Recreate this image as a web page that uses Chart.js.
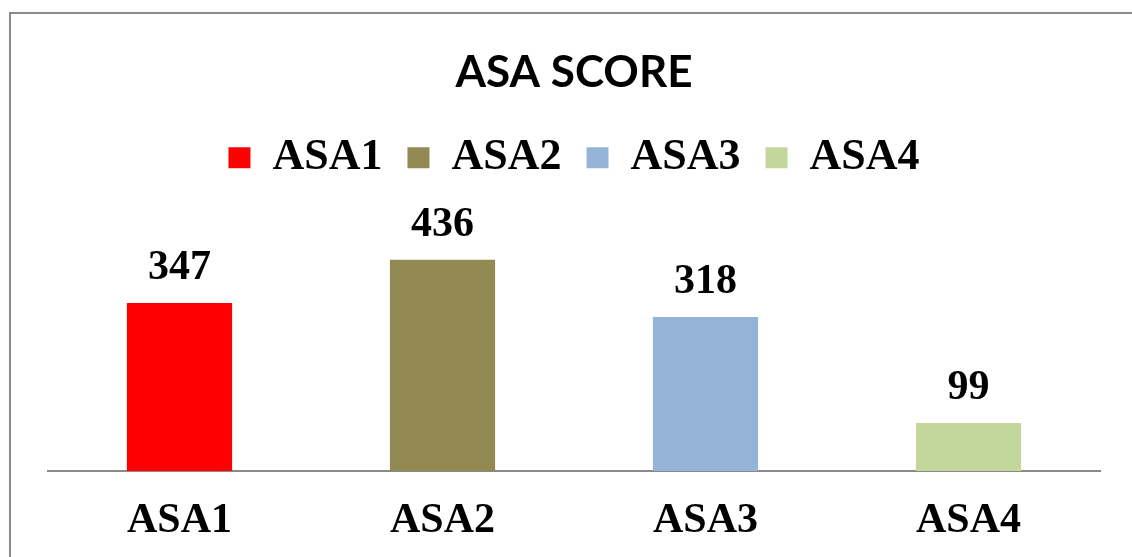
<!DOCTYPE html>
<html>
<head>
<meta charset="utf-8">
<script src="https://cdn.jsdelivr.net/npm/chart.js@4"></script>
<style>
  html, body { margin: 0; padding: 0; background: #fff; overflow: hidden; }
  #frame { position: absolute; left: 9px; top: 12px; width: 1200px; height: 600px; border: 2px solid #8a8a8a; }
  #wrap { position: absolute; left: 0; top: 0; width: 1132px; height: 557px; }
</style>
</head>
<body>
<div id="frame"></div>
<div id="wrap"><canvas id="asaChart" width="1132" height="557"></canvas></div>
<script>
const categories = ['ASA1', 'ASA2', 'ASA3', 'ASA4'];
const scores = [347, 436, 318, 99];
const barColors = ['#ff0000', '#938953', '#95b3d7', '#c3d69b'];

const serif = '"Liberation Serif", "Times New Roman", serif';

// value labels above each bar
const valueLabels = {
    id: 'valueLabels',
    afterDatasetsDraw(chart) {
        const ctx = chart.ctx;
        const meta = chart.getDatasetMeta(0);
        ctx.save();
        ctx.font = 'bold 42px ' + serif;
        ctx.fillStyle = '#000';
        ctx.textAlign = 'center';
        ctx.textBaseline = 'alphabetic';
        meta.data.forEach((bar, i) => {
            ctx.fillText(scores[i], bar.x, bar.y - 24);
        });
        ctx.restore();
    }
};

// extra room under the legend
const legendGap = {
    id: 'legendGap',
    beforeInit(chart) {
        const fit = chart.legend.fit;
        chart.legend.fit = function () {
            fit.bind(chart.legend)();
            this.height += 39;
        };
    }
};

new Chart(document.getElementById('asaChart'), {
    type: 'bar',
    data: {
        labels: categories,
        datasets: [{
            label: 'ASA SCORE',
            data: scores,
            backgroundColor: barColors,
            borderWidth: 0,
            barPercentage: 0.8,
            categoryPercentage: 0.5
        }]
    },
    options: {
        responsive: false,
        animation: false,
        layout: { padding: { left: 48, right: 32, top: 0, bottom: 0 } },
        plugins: {
            title: {
                display: true,
                text: 'ASA SCORE',
                color: '#000',
                font: { family: 'Lato, "Liberation Sans", sans-serif', size: 44, weight: 'bold' },
                padding: { top: 46, bottom: 12 }
            },
            legend: {
                display: true,
                labels: {
                    color: '#000',
                    font: { family: serif, size: 44, weight: 'bold' },
                    boxWidth: 22,
                    boxHeight: 21,
                    padding: 25,
                    generateLabels: () => categories.map((c, i) => ({
                        text: c,
                        fillStyle: barColors[i],
                        strokeStyle: barColors[i],
                        lineWidth: 0,
                        index: i
                    }))
                },
                onClick: null
            },
            tooltip: { enabled: false }
        },
        scales: {
            x: {
                grid: { display: false, drawTicks: false },
                border: { display: true, color: '#8a8a8a', width: 2 },
                ticks: {
                    color: '#000',
                    padding: 25,
                    font: { family: serif, size: 42, weight: 'bold' }
                },
                afterFit(scale) {
                    scale.height = 86;
                }
            },
            y: {
                display: false,
                min: 0,
                max: 500
            }
        }
    },
    plugins: [valueLabels, legendGap]
});
</script>
</body>
</html>
